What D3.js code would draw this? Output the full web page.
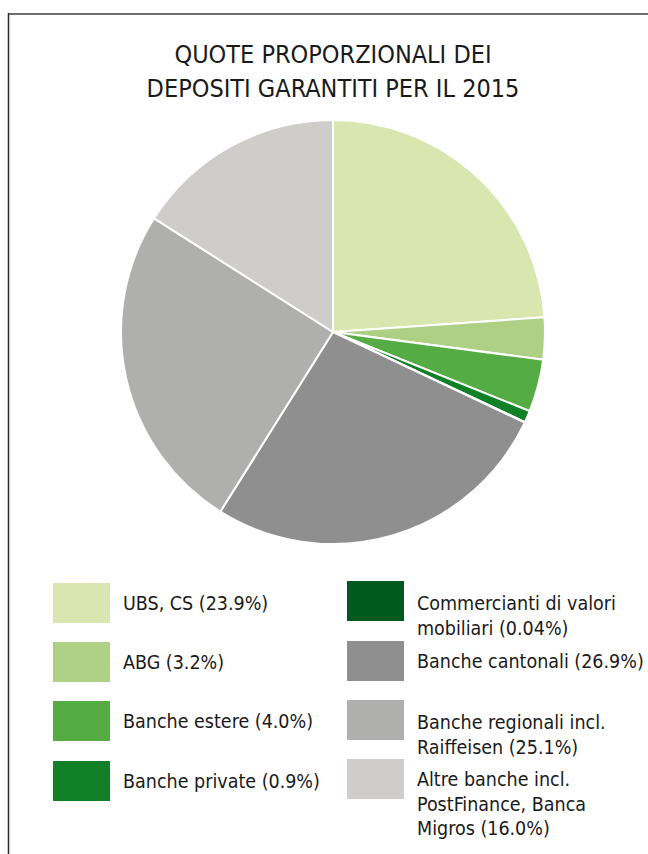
<!DOCTYPE html>
<html>
<head>
<meta charset="utf-8">
<script src="https://cdn.jsdelivr.net/npm/d3@7"></script>
<style>
  html, body { margin: 0; padding: 0; background: #fff; }
  svg { display: block; }
  text { font-family: "Liberation Sans Narrow", "DejaVu Sans Condensed", "Open Sans", sans-serif; fill: #1a1a1a; }
</style>
</head>
<body>
<svg id="chart" width="648" height="854"></svg>
<script>
const titleLines = ["QUOTE PROPORZIONALI DEI", "DEPOSITI GARANTITI PER IL 2015"];
const categories = ["UBS, CS", "ABG", "Banche estere", "Banche private", "Commercianti di valori mobiliari", "Banche cantonali", "Banche regionali incl. Raiffeisen", "Altre banche incl. PostFinance, Banca Migros"];
const values = [23.9, 3.2, 4.0, 0.9, 0.04, 26.9, 25.1, 16.0];
const colors = ["#d9e6b0", "#aed085", "#56ac44", "#118026", "#005a1e", "#8f8f8f", "#afafad", "#cecdc9"];
const legendLines = [
  ["UBS, CS (23.9%)"],
  ["ABG (3.2%)"],
  ["Banche estere (4.0%)"],
  ["Banche private (0.9%)"],
  ["Commercianti di valori", "mobiliari (0.04%)"],
  ["Banche cantonali (26.9%)"],
  ["Banche regionali incl.", "Raiffeisen (25.1%)"],
  ["Altre banche incl.", "PostFinance, Banca", "Migros (16.0%)"]
];

const svg = d3.select("#chart");

// frame
svg.append("line").attr("x1", 8).attr("x2", 648).attr("y1", 14).attr("y2", 14)
  .attr("stroke", "#6e6e6e").attr("stroke-width", 2);
svg.append("line").attr("x1", 8.5).attr("x2", 8.5).attr("y1", 13).attr("y2", 854)
  .attr("stroke", "#2a2a2a").attr("stroke-width", 1.5);

// title
svg.append("g").selectAll("text").data(titleLines).join("text")
  .attr("x", 333).attr("y", (d, i) => 63 + i * 34)
  .attr("text-anchor", "middle")
  .attr("font-size", 25)
  .text(d => d);

// pie
const data = categories.map((c, i) => ({ name: c, value: values[i], color: colors[i] }));
const pie = d3.pie().value(d => d.value).sort(null);
const arc = d3.arc().innerRadius(0).outerRadius(212);
const g = svg.append("g").attr("transform", "translate(333,332)");
g.selectAll("path").data(pie(data)).join("path")
  .attr("d", arc)
  .attr("fill", d => d.data.color)
  .attr("stroke", "#fff")
  .attr("stroke-width", 2)
  .attr("stroke-linejoin", "round");

// legend
const colX = [53, 347];
const rowTops = [[583, 642, 701, 761], [581, 641, 700, 759]];
const lg = svg.append("g");
data.forEach((d, i) => {
  const col = i < 4 ? 0 : 1;
  const row = i % 4;
  const top = rowTops[col][row];
  lg.append("rect").attr("x", colX[col]).attr("y", top).attr("width", 57).attr("height", 40).attr("fill", d.color);
  const lines = legendLines[i];
  const lh = 24.5;
  let y0;
  if (lines.length === 1) y0 = top + 27;
  else if (lines.length === 2) y0 = top + 29;
  else y0 = top + 27;
  const t = lg.append("text").attr("x", colX[col] + 70).attr("font-size", 19.5);
  lines.forEach((ln, k) => {
    t.append("tspan").attr("x", colX[col] + 70).attr("y", y0 + k * lh).text(ln);
  });
});
</script>
</body>
</html>
